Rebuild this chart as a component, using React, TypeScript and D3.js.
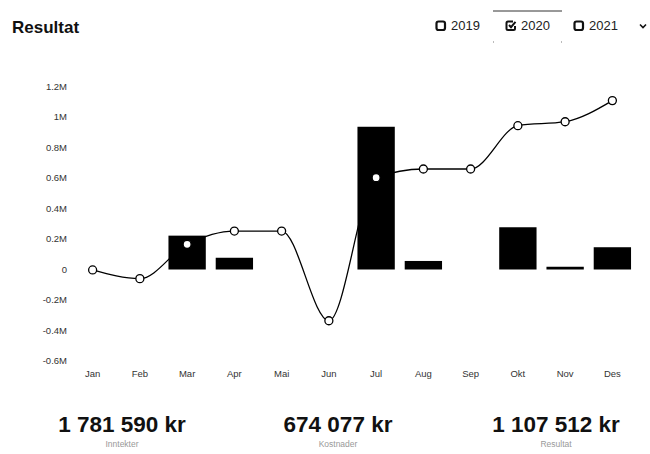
import React from 'react';
import * as d3 from 'd3';

const months = ['Jan', 'Feb', 'Mar', 'Apr', 'Mai', 'Jun', 'Jul', 'Aug', 'Sep', 'Okt', 'Nov', 'Des'];
// monthly result (only positive months are drawn as bars)
const monthly = [0, 0, 222000, 77000, 0, 0, 936000, 56000, 0, 277000, 18000, 146000];
// accumulated result
const accumulated = [-3000, -60000, 165000, 252000, 252000, -336000, 602000, 659000, 659000, 943000, 969000, 1107512];
const yTicks = [-600000, -400000, -200000, 0, 200000, 400000, 600000, 800000, 1000000, 1200000];
const years = ['2019', '2020', '2021'];
const selectedYear = '2020';
const totals = [
  { value: '1 781 590 kr', label: 'Inntekter' },
  { value: '674 077 kr', label: 'Kostnader' },
  { value: '1 107 512 kr', label: 'Resultat' },
];

const W = 650;
const H = 454;
const font = '"Liberation Sans", Arial, sans-serif';

const fmtTick = (d: number) => (d === 0 ? '0' : `${+(d / 1e6).toFixed(1)}M`);

const App: React.FC = () => {
  const x = d3.scaleBand<string>().domain(months).range([69, 636]).paddingInner(0.21).paddingOuter(0.105);
  const y = d3.scaleLinear().domain([-600000, 1200000]).range([361, 86.5]);
  const cx = (m: string) => (x(m) ?? 0) + x.bandwidth() / 2;

  const line = d3
    .line<number>()
    .x((_, i) => cx(months[i]))
    .y((d) => y(d))
    .curve(d3.curveMonotoneX);

  const legendX = [435, 505, 573];

  return (
    <svg width={W} height={H} style={{ position: 'absolute', left: 0, top: 0 }} fontFamily={font}>
      <rect width={W} height={H} fill="#fff" />
      <text x={12} y={33} fontSize={17} fontWeight={700} fill="#111">Resultat</text>

      {/* year selector */}
      <line x1={493} x2={562} y1={11} y2={11} stroke="#333" strokeWidth={1} />
      <rect x={493} y={41} width={1} height={2} fill="#bbb" />
      <rect x={561} y={41} width={1} height={2} fill="#bbb" />
      {years.map((yr, i) => (
        <g key={yr} transform={`translate(${legendX[i]},0)`}>
          {yr === selectedYear ? (
            <>
              <path d="M8,21.5 L3,21.5 Q1.5,21.5 1.5,23 L1.5,28.5 Q1.5,30 3,30 L8.5,30 Q10,30 10,28.5 L10,26" fill="none" stroke="#111" strokeWidth={2} />
              <path d="M4,25 L6,27.2 L10.5,21.8" fill="none" stroke="#111" strokeWidth={2} />
            </>
          ) : (
            <rect x={1.5} y={21.5} width={8.5} height={8.5} rx={2} fill="#fff" stroke="#111" strokeWidth={2.2} />
          )}
          <text x={16} y={30} fontSize={13} fill="#222">{yr}</text>
        </g>
      ))}
      <path d="M640,24.5 L643,27.5 L646,24.5" fill="none" stroke="#111" strokeWidth={1.6} />

      {/* y axis labels */}
      {yTicks.map((t) => (
        <text key={t} x={67} y={y(t)} dy="0.35em" textAnchor="end" fontSize={9.5} fill="#333">
          {fmtTick(t)}
        </text>
      ))}

      {/* x axis labels */}
      {months.map((m) => (
        <text key={m} x={cx(m)} y={377} textAnchor="middle" fontSize={9.5} fill="#333">
          {m}
        </text>
      ))}

      {/* monthly bars */}
      {monthly.map((v, i) =>
        v > 0 ? (
          <rect
            key={months[i]}
            x={x(months[i])}
            y={y(v)}
            width={x.bandwidth()}
            height={y(0) - y(v)}
            fill="#000"
          />
        ) : null
      )}

      {/* accumulated line */}
      <path d={line(accumulated) ?? ''} fill="none" stroke="#000" strokeWidth={1.3} />
      {accumulated.map((v, i) => (
        <circle key={months[i]} cx={cx(months[i])} cy={y(v)} r={4} fill="#fff" stroke="#000" strokeWidth={1.3} />
      ))}

      {/* totals */}
      {totals.map((t, i) => {
        const tx = [122, 338, 556][i];
        return (
          <g key={t.label}>
            <text x={tx} y={432} textAnchor="middle" fontSize={22.5} fontWeight={700} fill="#111">
              {t.value}
            </text>
            <text x={tx} y={447} textAnchor="middle" fontSize={8.5} fill="#999">
              {t.label}
            </text>
          </g>
        );
      })}
    </svg>
  );
};

export default App;
